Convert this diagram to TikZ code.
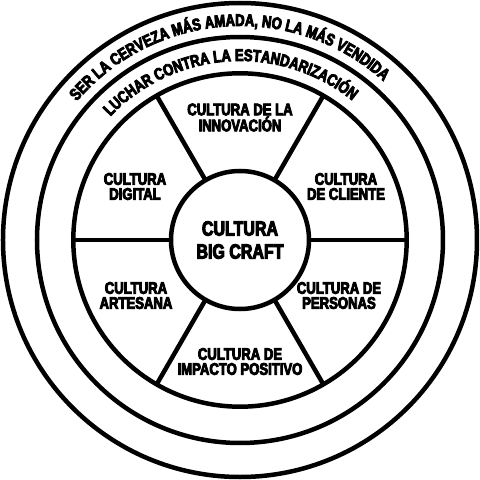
\documentclass[tikz,border=0pt]{standalone}
\usepackage{fontspec}
\newfontfamily\lbl[FakeStretch=0.78, FakeBold=5, UprightFont={* Bold}, BoldFont={* Bold}]{Liberation Sans}
\usetikzlibrary{decorations.text}
\begin{document}
\begin{tikzpicture}[x=1pt,y=1pt,
  ringc/.style={circle, draw, line width=4.5pt, inner sep=0pt, outer sep=0pt},
  spoke/.style={draw, line width=4.5pt},
  lab/.style={font=\lbl\fontsize{16.8}{15}\selectfont, align=center, inner sep=0pt},
  ctr/.style={font=\lbl\fontsize{20.5}{23}\selectfont, align=center, inner sep=0pt}]
\useasboundingbox (-240,-240) rectangle (240,240);
\node[ringc, minimum size=474pt] (outer) at (0,0) {};
\node[ringc, minimum size=406pt] (mid) at (0,0) {};
\node[ringc, minimum size=333.4pt] (wheel) at (0,0) {};
\node[ringc, minimum size=138pt, ctr] (core) at (0,0) {CULTURA\\BIG CRAFT};
\foreach \a in {0,60,120,180,240,300}
  \draw[spoke] (core.\a) -- (wheel.\a);
\node[lab] (inn) at (0,122.5) {CULTURA DE LA\\INNOVACIÓN};
\node[lab] (cli) at (106,53.5) {CULTURA\\DE CLIENTE};
\node[lab] (per) at (99,-55.5) {CULTURA DE\\PERSONAS};
\node[lab] (imp) at (0,-121.5) {CULTURA DE\\IMPACTO POSITIVO};
\node[lab] (art) at (-104,-55.5) {CULTURA\\ARTESANA};
\node[lab] (dig) at (-105,53.5) {CULTURA\\DIGITAL};
\path[decorate, decoration={text along path, text align=center,
  text={|\lbl\fontsize{16.8}{15}\selectfont|SER LA CERVEZA MÁS AMADA, NO LA MÁS VENDIDA}}]
  (160:214pt) arc[start angle=160, end angle=27.5, radius=214pt];
\path[decorate, decoration={text along path, text align=center,
  text={|\lbl\fontsize{16.8}{15}\selectfont|LUCHAR CONTRA LA ESTANDARIZACIÓN}}]
  (160:179pt) arc[start angle=160, end angle=27.5, radius=179pt];
\end{tikzpicture}
\end{document}
